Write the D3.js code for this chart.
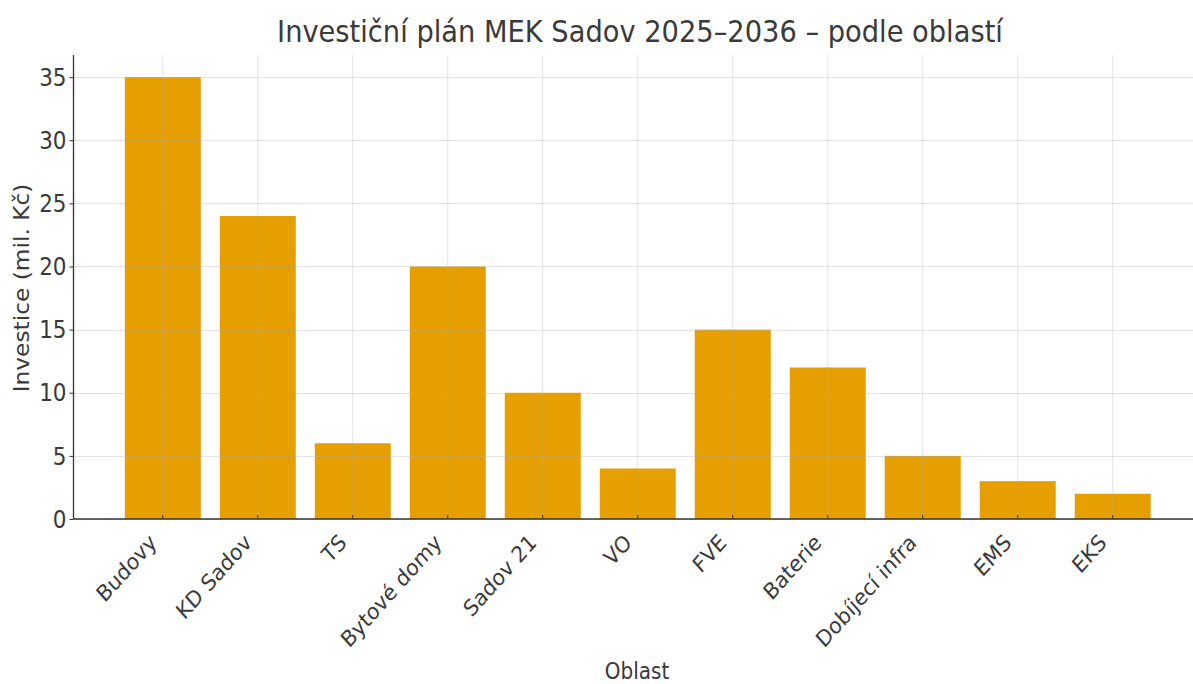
<!DOCTYPE html>
<html><head><meta charset="utf-8">
<script src="https://cdn.jsdelivr.net/npm/d3@7"></script>
<style>body{margin:0;background:#fff;}svg{display:block;font-family:"DejaVu Sans",sans-serif;}</style>
</head><body>
<svg id="c" width="1193" height="684"></svg>
<script>
const categories = ["Budovy","KD Sadov","TS","Bytové domy","Sadov 21","VO","FVE","Baterie","Dobíjecí infra","EMS","EKS"];
const values = [35, 24, 6, 20, 10, 4, 15, 12, 5, 3, 2];
const yTicks = [0, 5, 10, 15, 20, 25, 30, 35];
const title = "Investiční plán MEK Sadov 2025–2036 – podle oblastí";
const xLabel = "Oblast";
const yLabel = "Investice (mil. Kč)";

const svg = d3.select("#c");
const L = 73.5, R = 1202, T = 55, B = 519;
const SY = 1.12; // vertical stretch of the reference's text
const x = d3.scaleBand().domain(categories).range([L, R]).paddingInner(0.2).paddingOuter(0.54);
const y = d3.scaleLinear().domain([0, 36.75]).range([B, T]);
const textCol = "#3a3a3a";

// bars
svg.append("g").selectAll("rect").data(values).join("rect")
  .attr("x", (d,i) => x(categories[i]))
  .attr("width", x.bandwidth())
  .attr("y", d => y(d))
  .attr("height", d => y(0) - y(d))
  .attr("fill", "#E69F00");

// grid (drawn on top, faint)
const grid = svg.append("g").attr("stroke", "#b0b0b0").attr("stroke-opacity", 0.35).attr("stroke-width", 1);
grid.selectAll("line.h").data(yTicks).join("line").attr("class","h")
  .attr("x1", L).attr("x2", R).attr("y1", d => Math.round(y(d))+0.5).attr("y2", d => Math.round(y(d))+0.5);
grid.selectAll("line.v").data(categories).join("line").attr("class","v")
  .attr("x1", d => x(d)+x.bandwidth()/2).attr("x2", d => x(d)+x.bandwidth()/2).attr("y1", T).attr("y2", B);

// y axis
const yAxis = d3.axisLeft(y).tickValues(yTicks).tickSize(4).tickPadding(3);
const gy = svg.append("g").attr("transform", `translate(${L},0)`).call(yAxis);
gy.select(".domain").attr("stroke", "#333").attr("stroke-width", 1.3).attr("d", `M0,${T}V${B}`);
gy.selectAll(".tick line").attr("stroke", "#333");
gy.selectAll(".tick text").attr("fill", textCol).attr("font-size", 21.5).attr("font-family", "DejaVu Sans")
  .attr("x", 0).attr("y", 0).attr("dy", "0.34em").attr("text-anchor", "end")
  .attr("transform", `translate(-7,0) scale(1,${SY})`);

// x axis
const xAxis = d3.axisBottom(x).tickSize(-4).tickPadding(10);
const gx = svg.append("g").attr("transform", `translate(0,${B})`).call(xAxis);
gx.select(".domain").attr("stroke", "#333").attr("stroke-width", 1.3).attr("d", `M${L},0H${R}`);
gx.selectAll(".tick line").attr("stroke", "#333");
gx.selectAll(".tick text").attr("fill", textCol).attr("font-size", 20).attr("font-family", "DejaVu Sans")
  .attr("text-anchor", "end").attr("x", 0).attr("y", 0).attr("dy", 0)
  .attr("transform", `translate(-5,25) scale(1,${SY}) rotate(-45)`);

// title
svg.append("text").attr("transform", `translate(640,42) scale(1,${SY})`).attr("text-anchor", "middle")
  .attr("font-size", 27.3).attr("fill", textCol).text(title);
// axis labels
svg.append("text").attr("transform", `translate(637,679) scale(1,${SY})`).attr("text-anchor", "middle")
  .attr("font-size", 20).attr("fill", textCol).text(xLabel);
svg.append("text").attr("transform", `translate(29,288) scale(1,${SY}) rotate(-90)`).attr("text-anchor", "middle")
  .attr("font-size", 20.8).attr("fill", textCol).text(yLabel);
</script>
</body></html>
